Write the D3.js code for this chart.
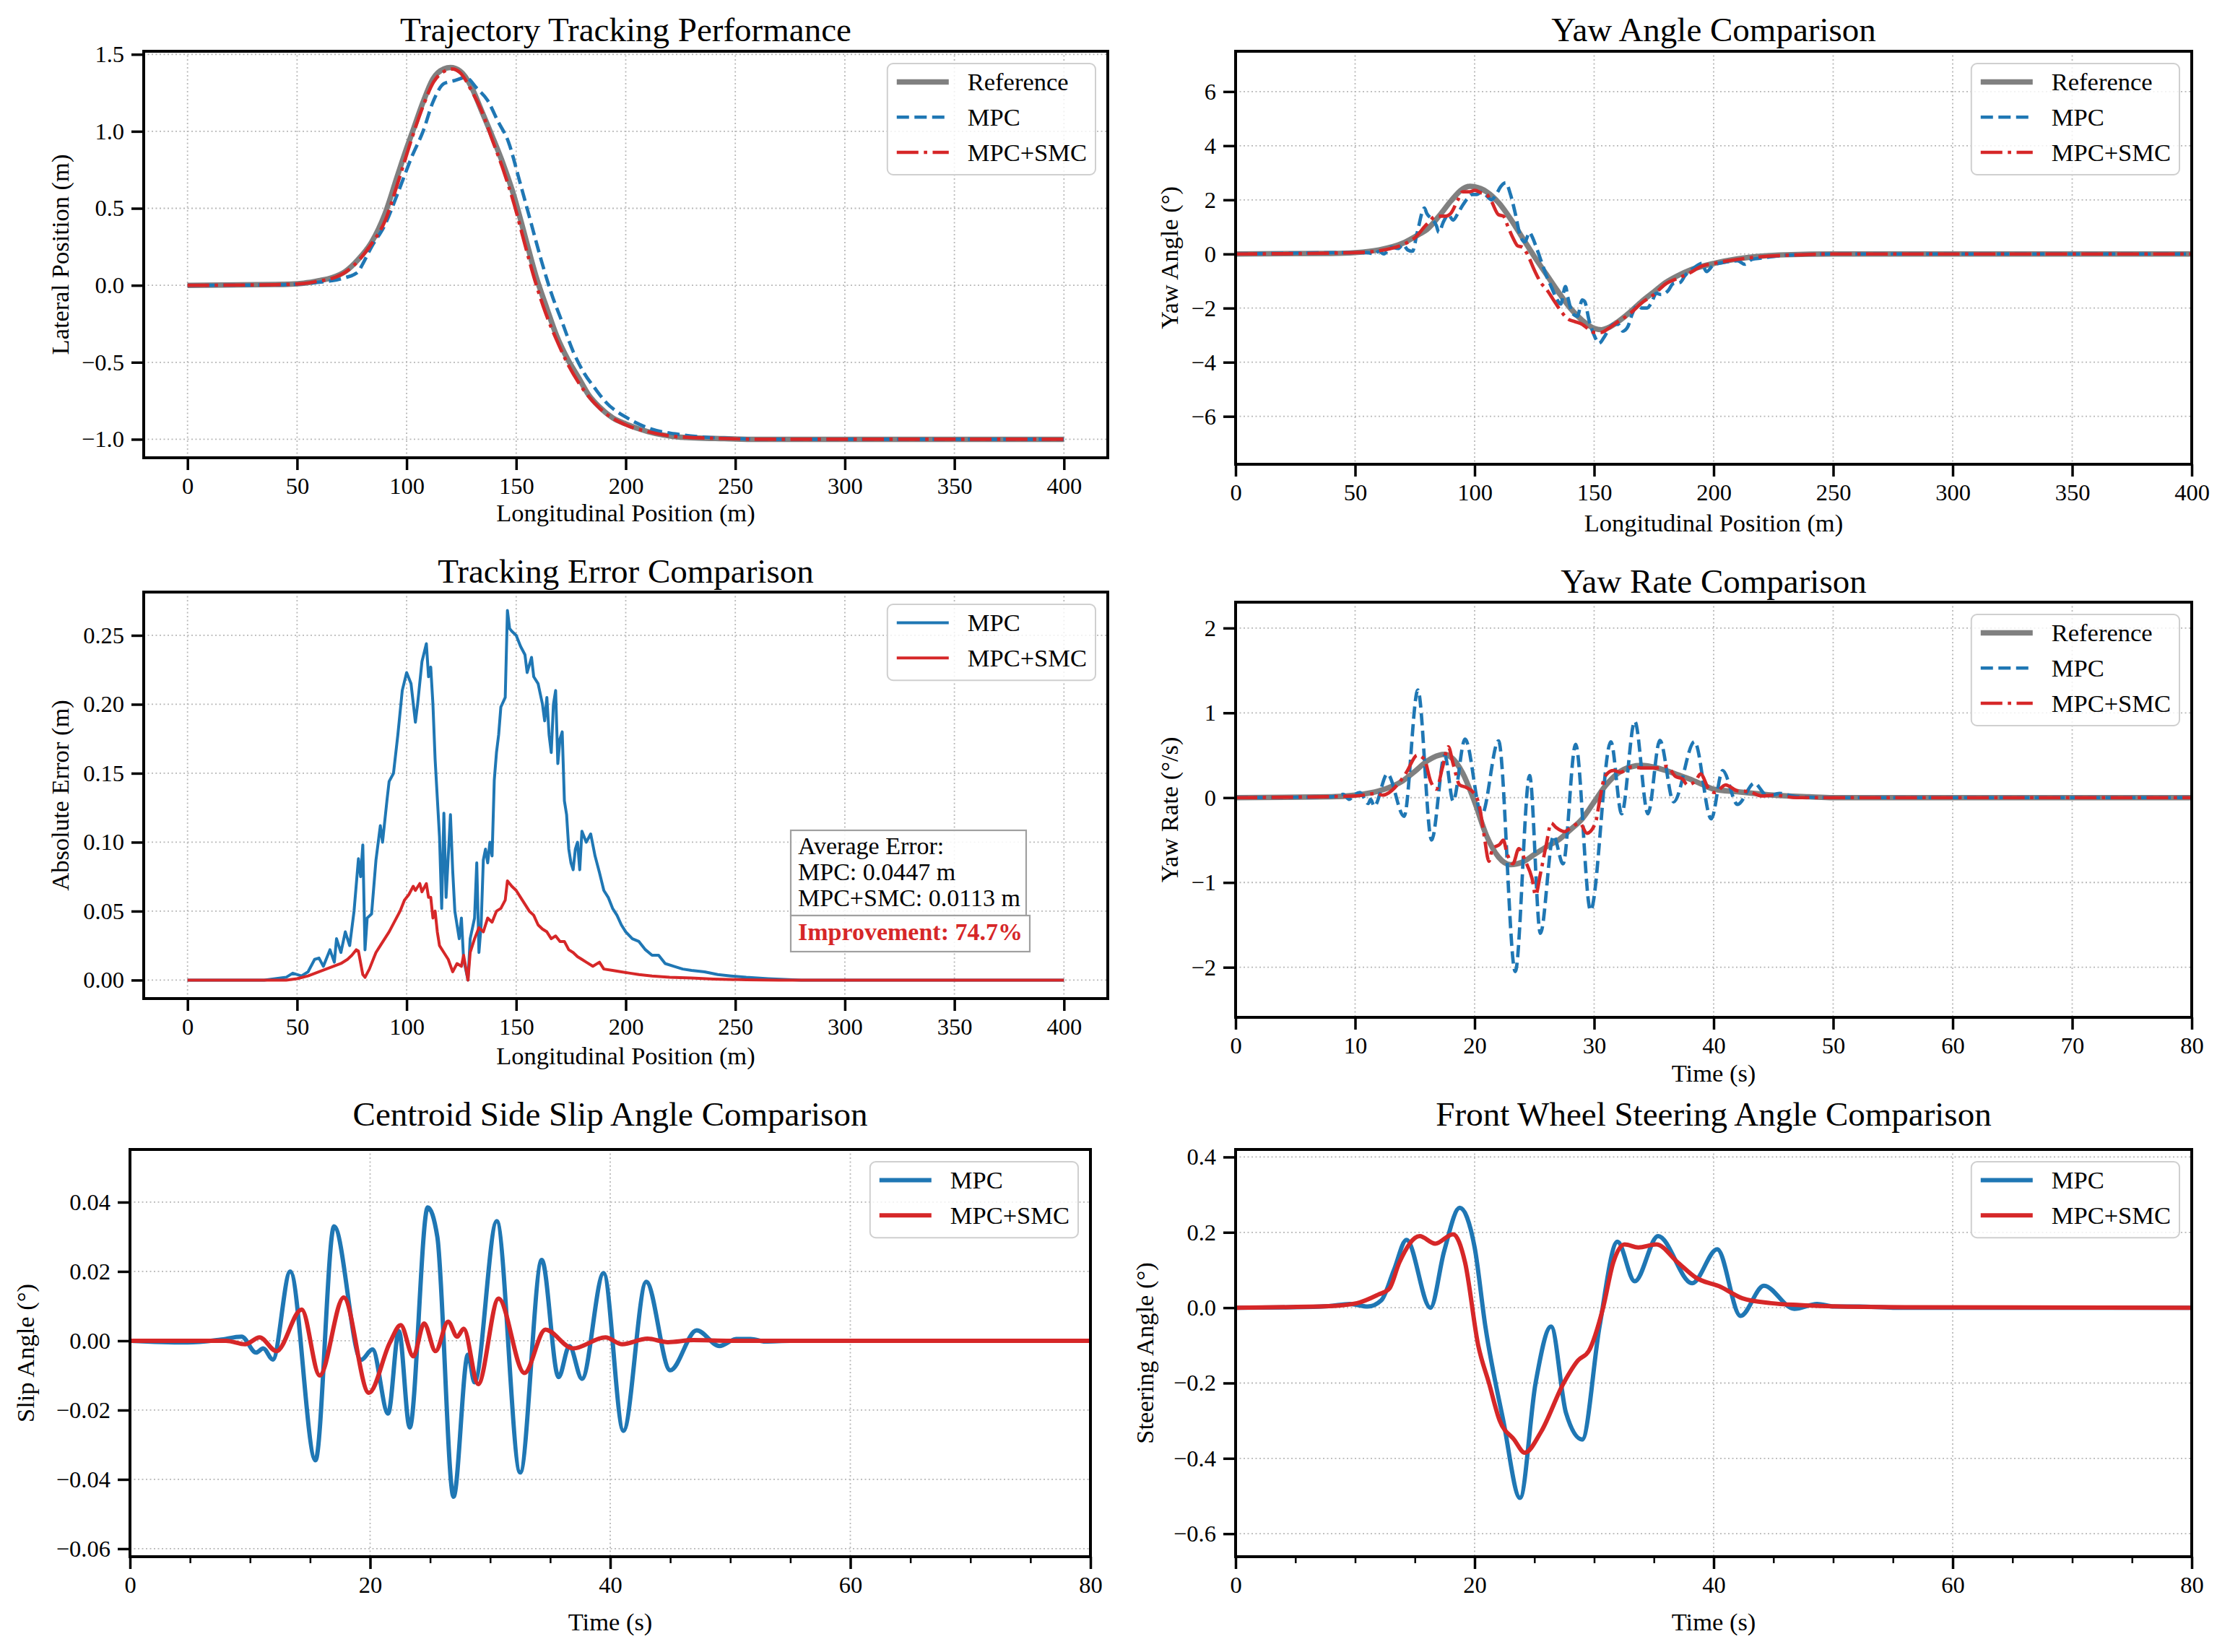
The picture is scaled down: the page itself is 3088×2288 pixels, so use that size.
<!DOCTYPE html>
<html>
<head>
<meta charset="utf-8">
<script src="https://cdn.jsdelivr.net/npm/d3@7"></script>
<style>
  body { margin: 0; background: #fff; }
  svg { display: block; }
</style>
</head>
<body>
<svg id="fig" width="3088" height="2288"></svg>
<script>
// ---- data ----
const posTicks = [0, 50, 100, 150, 200, 250, 300, 350, 400];
const timeTicks10 = [0, 10, 20, 30, 40, 50, 60, 70, 80];
const timeTicks20 = [0, 20, 40, 60, 80];

// lateral position (m) vs longitudinal position (m)
const trajRef = [[0,0],[40,0.005],[53,0.014],[60,0.03],[66,0.05],[72,0.09],[78,0.17],[84,0.28],[90,0.46],[96,0.72],[100,0.89],[103,1.01],[107.5,1.19],[112,1.34],[117,1.405],[120,1.414],[124.5,1.39],[129.5,1.29],[134,1.14],[139,0.97],[144,0.79],[149,0.58],[154,0.32],[159,0.06],[164,-0.15],[168.5,-0.33],[173.5,-0.48],[178.5,-0.6],[183,-0.71],[188,-0.79],[194,-0.86],[200,-0.9],[210,-0.95],[225,-0.986],[245,-0.996],[260,-1.0],[400,-1.0]];
const trajMpc = [[0,0],[40,0.003],[53,0.01],[60,0.02],[66,0.03],[72,0.05],[76,0.07],[78,0.09],[80,0.14],[84,0.25],[90,0.39],[96,0.6],[102.5,0.84],[107.5,1.0],[112,1.19],[117,1.31],[122,1.33],[127,1.35],[132,1.28],[137,1.2],[141.5,1.07],[146.5,0.93],[151.5,0.68],[156.5,0.42],[161.5,0.16],[166,-0.05],[171,-0.24],[176,-0.43],[181,-0.57],[186,-0.67],[191,-0.76],[200.5,-0.86],[210,-0.925],[225,-0.97],[245,-0.993],[265,-1.0],[400,-1.0]];
const trajSmc = [[0,0],[40,0.004],[53,0.012],[60,0.028],[66,0.045],[72,0.085],[78,0.16],[84,0.27],[90.2,0.42],[96.3,0.68],[102.5,0.96],[107.4,1.16],[112.3,1.32],[117.2,1.39],[121,1.405],[124.5,1.38],[129.4,1.27],[134.3,1.13],[139.2,0.94],[144.1,0.75],[149,0.53],[153.9,0.27],[158.8,0.02],[163.7,-0.19],[168.6,-0.36],[173.5,-0.51],[178.4,-0.63],[188.2,-0.8],[200.5,-0.91],[210,-0.95],[225,-0.985],[245,-0.995],[260,-1.0],[400,-1.0]];

// yaw angle (deg) vs longitudinal position (m)
const yawRef = [[0,0],[40,0.02],[50,0.05],[60,0.15],[70,0.4],[77,0.74],[80,0.9],[86,1.5],[90,1.95],[95,2.4],[98,2.5],[100,2.48],[105,2.3],[110,1.9],[115,1.3],[120,0.6],[125,-0.1],[130,-0.75],[135,-1.4],[140,-2.0],[145,-2.45],[150,-2.75],[153,-2.8],[156,-2.72],[160,-2.5],[165,-2.15],[170,-1.75],[175,-1.4],[180,-1.05],[185,-0.8],[190,-0.6],[200,-0.35],[210,-0.18],[220,-0.08],[230,-0.03],[250,0],[400,0]];
const yawMpc = [[0,0],[50,0.05],[55,0.05],[58,0.0],[60,0.1],[62,0.0],[65,0.25],[68,0.2],[70,0.35],[72,0.15],[74,0.1],[76,0.8],[79,1.7],[80,1.5],[82,1.3],[84,1.05],[85,0.8],[87,1.2],[89,1.45],[91,1.25],[93,1.5],[95,1.8],[97,2.05],[99,2.2],[101,2.2],[103,2.3],[105,2.15],[107,2.0],[109,2.2],[111,2.5],[113,2.63],[115,2.2],[117,1.5],[119,0.7],[121,0.45],[123,0.8],[124,0.65],[126,0.2],[128,-0.3],[130,-0.8],[132,-1.2],[134,-1.6],[136,-1.85],[138,-1.2],[139,-1.6],[141,-2.2],[143,-2.3],[145,-1.7],[146,-1.75],[148,-2.5],[150,-3.0],[152,-3.3],[154,-3.1],[156,-2.8],[158,-2.6],[160,-2.6],[162,-2.85],[164,-2.7],[166,-2.2],[168,-1.9],[170,-2.0],[172,-2.0],[174,-1.8],[176,-1.45],[178,-1.5],[181,-1.35],[183,-1.1],[186,-1.05],[188,-0.8],[192,-0.5],[195,-0.35],[197,-0.65],[200,-0.4],[205,-0.3],[210,-0.25],[213,-0.38],[216,-0.2],[220,-0.15],[230,-0.05],[250,0],[400,0]];
const yawSmc = [[0,0],[50,0.05],[60,0.12],[70,0.35],[75,0.6],[80,1.1],[84,1.4],[88,1.4],[90,1.5],[93,2.0],[95,2.3],[98,2.3],[100,2.35],[103,2.25],[105,2.2],[107,1.95],[110,1.45],[112,1.4],[114,1.0],[116,0.6],[118,0.3],[120,0.25],[122,0.0],[125,-0.6],[128,-1.1],[130,-1.3],[133,-1.7],[136,-2.1],[139,-2.4],[142,-2.5],[145,-2.6],[148,-2.8],[150,-2.9],[153,-2.9],[156,-2.75],[160,-2.5],[165,-2.2],[170,-1.8],[175,-1.5],[180,-1.1],[185,-0.9],[190,-0.7],[195,-0.45],[200,-0.35],[210,-0.2],[220,-0.1],[230,-0.05],[250,0],[400,0]];

// absolute tracking error (m) vs longitudinal position (m)
const errMpc = [[0,0],[35,0],[40,0.001],[45,0.002],[48,0.005],[52,0.003],[55,0.006],[58,0.015],[60,0.016],[62,0.01],[65,0.022],[67,0.013],[68,0.03],[70,0.02],[72,0.035],[74,0.025],[76,0.05],[78,0.088],[79,0.075],[80,0.098],[81,0.022],[82,0.045],[84,0.048],[86,0.087],[88,0.112],[89,0.1],[91,0.13],[92,0.144],[94,0.15],[96,0.178],[98,0.21],[100,0.223],[102,0.215],[104,0.187],[105,0.2],[107,0.231],[109,0.244],[110,0.22],[111,0.227],[112,0.2],[113,0.16],[115,0.104],[116,0.052],[117,0.121],[118,0.06],[120,0.12],[121,0.08],[122,0.05],[124,0.03],[125,0.045],[126,0.015],[128,0.0],[129,0.03],[131,0.045],[132,0.085],[133,0.02],[134,0.04],[135,0.087],[136,0.095],[137,0.085],[138,0.1],[139,0.09],[140,0.145],[141,0.165],[142,0.178],[143,0.198],[145,0.205],[146,0.268],[147,0.255],[148,0.253],[150,0.25],[152,0.242],[154,0.236],[155,0.223],[157,0.234],[158,0.22],[160,0.215],[162,0.2],[163,0.188],[164,0.205],[165,0.178],[166,0.165],[167,0.2],[168,0.21],[169,0.157],[170,0.175],[171,0.18],[172,0.13],[173,0.12],[174,0.095],[175,0.085],[176,0.08],[177,0.095],[178,0.1],[179,0.08],[180,0.108],[182,0.1],[184,0.106],[186,0.09],[188,0.078],[190,0.065],[192,0.06],[194,0.052],[196,0.047],[198,0.04],[200,0.035],[203,0.03],[206,0.028],[209,0.022],[212,0.018],[215,0.018],[218,0.012],[222,0.01],[226,0.008],[230,0.007],[236,0.006],[242,0.004],[248,0.003],[255,0.002],[265,0.001],[280,0],[400,0]];
const errSmc = [[0,0],[45,0],[50,0.001],[55,0.003],[60,0.006],[65,0.009],[70,0.012],[73,0.015],[75,0.018],[77,0.022],[78,0.021],[80,0.004],[81,0.002],[83,0.008],[85,0.016],[86,0.02],[88,0.025],[90,0.03],[92,0.035],[93,0.038],[95,0.044],[97,0.05],[99,0.058],[101,0.062],[103,0.068],[104,0.065],[106,0.07],[107,0.064],[109,0.07],[110,0.06],[111,0.06],[112,0.045],[113,0.05],[114,0.035],[115,0.025],[117,0.02],[119,0.015],[121,0.006],[123,0.012],[125,0.01],[126,0.018],[128,0.0],[129,0.02],[131,0.03],[133,0.038],[135,0.035],[137,0.045],[139,0.042],[141,0.05],[143,0.052],[145,0.058],[146,0.072],[148,0.068],[150,0.065],[152,0.06],[154,0.055],[156,0.05],[158,0.047],[160,0.04],[162,0.037],[164,0.035],[166,0.03],[168,0.032],[170,0.028],[172,0.028],[174,0.022],[176,0.02],[178,0.017],[180,0.015],[182,0.013],[185,0.01],[188,0.013],[190,0.008],[194,0.007],[198,0.006],[202,0.005],[206,0.004],[212,0.003],[220,0.002],[230,0.0015],[240,0.0008],[255,0.0002],[270,0],[400,0]];

// yaw rate (deg/s) vs time (s)
const rateRef = [[0,0],[8,0.01],[10,0.03],[12,0.08],[14,0.2],[15,0.31],[16,0.43],[17,0.5],[17.5,0.51],[18,0.48],[19,0.29],[20,-0.05],[21,-0.45],[22,-0.7],[23,-0.79],[24,-0.76],[25,-0.67],[26,-0.58],[27,-0.5],[28,-0.38],[29,-0.25],[30,-0.05],[31,0.15],[32,0.29],[33,0.36],[34,0.38],[35,0.36],[36,0.32],[37,0.27],[38,0.22],[39,0.16],[40,0.1],[42,0.07],[45,0.03],[48,0.01],[50,0],[80,0]];
const rateMpc = [[0,0],[8,0.01],[9,0.04],[9.5,-0.02],[10,0.04],[10.4,0.06],[11.1,-0.07],[11.3,-0.02],[11.6,-0.1],[12.7,0.28],[14.1,-0.22],[15.25,1.27],[16.4,-0.5],[17.5,0.5],[18.2,-0.04],[19.2,0.69],[20.6,-0.2],[22.0,0.67],[23.4,-2.05],[24.6,0.26],[25.5,-1.6],[26.6,-0.45],[27.4,-0.78],[28.45,0.63],[29.7,-1.33],[31.4,0.66],[32.3,-0.19],[33.4,0.9],[34.5,-0.19],[35.5,0.675],[36.65,-0.05],[38.4,0.66],[39.8,-0.25],[40.75,0.32],[42,-0.08],[43.4,0.17],[44.5,0.02],[45.5,0.05],[47,0.01],[50,0],[80,0]];
const rateSmc = [[0,0],[10,0.02],[11.8,0.05],[12.3,0.03],[13.7,0.18],[14.3,0.3],[15.2,0.5],[15.8,0.45],[16.3,0.2],[16.8,0.1],[17.3,0.35],[17.8,0.6],[18.2,0.4],[18.75,0.15],[19.3,0.12],[19.9,0.06],[20.4,-0.1],[20.8,-0.45],[21.2,-0.75],[21.5,-0.6],[22.1,-0.55],[22.4,-0.5],[22.7,-0.65],[23.2,-0.78],[23.7,-0.6],[24.25,-0.75],[24.8,-0.95],[25.1,-1.15],[25.5,-0.9],[26.0,-0.55],[26.4,-0.3],[26.8,-0.35],[27.5,-0.4],[28.1,-0.35],[28.8,-0.3],[29.4,-0.42],[30.1,-0.3],[30.5,0.0],[30.9,0.25],[31.6,0.32],[32.2,0.3],[33.1,0.36],[34.2,0.35],[35.25,0.35],[36.1,0.37],[36.8,0.25],[37.4,0.22],[37.8,0.15],[38.5,0.2],[38.9,0.28],[39.6,0.1],[40.1,0.06],[41,0.15],[42,0.08],[43,0.07],[44,0.02],[45,0.03],[47,0],[80,0]];

// centroid side slip angle (deg) vs time (s)
const slipMpc = [[0,0],[4.8,-0.0005],[7.5,0.0003],[9.3,0.0012],[10.5,-0.0034],[11.1,-0.0022],[11.9,-0.0054],[13.35,0.02],[15.45,-0.0345],[17.0,0.033],[19.25,-0.0055],[20.2,-0.0025],[21.5,-0.021],[22.4,0.0028],[23.3,-0.025],[24.8,0.0385],[25.6,0.03],[26.95,-0.045],[28.15,-0.004],[28.7,-0.012],[30.55,0.0345],[32.5,-0.038],[34.3,0.0233],[35.7,-0.0105],[36.6,-0.0015],[37.65,-0.011],[39.45,0.0195],[41.1,-0.026],[43.0,0.017],[45.0,-0.0085],[47.2,0.003],[49.1,-0.0015],[50.5,0.0005],[51.7,0.0005],[52.9,-0.0002],[55,0],[80,0]];
const slipSmc = [[0,0],[8,0],[9.6,-0.001],[10.8,0.001],[12.2,-0.003],[14.3,0.009],[15.8,-0.01],[17.8,0.0125],[19.9,-0.015],[21.65,-0.0005],[22.55,0.0045],[23.6,-0.0045],[24.5,0.005],[25.45,-0.003],[26.5,0.0055],[27.25,0.0012],[27.8,0.0035],[29.0,-0.0125],[30.7,0.0122],[32.85,-0.0093],[34.6,0.0032],[36.9,-0.0022],[39.6,0.001],[41.0,-0.001],[43.1,0.0006],[44.8,-0.0004],[46.9,0.0002],[50,0],[80,0]];

// front wheel steering angle (deg) vs time (s)
const steerMpc = [[0,0],[4.8,0.001],[7.8,0.004],[9.55,0.01],[11.05,0.003],[12.2,0.02],[13.25,0.1],[14.3,0.18],[16.3,0.0],[17.45,0.15],[18.75,0.265],[20.0,0.16],[20.9,-0.05],[22.4,-0.3],[23.8,-0.505],[25.1,-0.2],[26.4,-0.05],[27.65,-0.28],[29.0,-0.35],[30.45,-0.05],[31.95,0.175],[33.4,0.07],[35.35,0.19],[38.2,0.065],[40.3,0.155],[42.25,-0.022],[44.2,0.058],[46.75,-0.003],[48.65,0.01],[50.1,0.003],[52.2,0.003],[55,0],[80,0]];
const steerSmc = [[0,0],[7.8,0.004],[10.15,0.012],[11.95,0.035],[12.85,0.05],[13.7,0.12],[15.4,0.19],[16.7,0.17],[18.2,0.195],[19.2,0.12],[20.3,-0.1],[21.2,-0.2],[22.1,-0.3],[23.3,-0.35],[24.2,-0.385],[25.55,-0.33],[27.45,-0.2],[28.65,-0.14],[29.55,-0.115],[30.75,0.0],[31.6,0.12],[32.55,0.168],[33.7,0.16],[35.2,0.168],[37.0,0.12],[38.5,0.08],[40.6,0.055],[42.4,0.025],[44.8,0.012],[47.2,0.007],[49.55,0.004],[52.5,0.002],[56,0.001],[80,0]];

// summary text in the error panel
const errSummary = ['Average Error:', 'MPC: 0.0447 m', 'MPC+SMC: 0.0113 m'];
const errImprovement = 'Improvement: 74.7%';

// ---- styles ----
const FONT = '"Liberation Serif","Times New Roman",Times,serif';
const BLUE = '#1f77b4', RED = '#d62728', GRAY = '#808080';
const refStyle = { color: GRAY, width: 7.5, dash: null };
const mpcDash = { color: BLUE, width: 4.7, dash: '17,7.5' };
const smcDashDot = { color: RED, width: 4.7, dash: '30,7.5,4.7,7.5' };

const svg = d3.select('#fig');
svg.append('rect').attr('width', 3088).attr('height', 2288).attr('fill', '#fff');

const panels = [
  {
    id: 'p1', box: [199, 71, 1534, 634], xDomain: [-20, 420], yDomain: [-1.12, 1.52],
    xTicks: posTicks, yTicks: [-1, -0.5, 0, 0.5, 1, 1.5], yFmt: d3.format('.1f'),
    title: 'Trajectory Tracking Performance', titleY: 57,
    xLabel: 'Longitudinal Position (m)', xLabelY: 722,
    yLabel: 'Lateral Position (m)', yLabelX: 95,
    curve: d3.curveMonotoneX,
    series: [
      { name: 'Reference', data: trajRef, ...refStyle },
      { name: 'MPC', data: trajMpc, ...mpcDash },
      { name: 'MPC+SMC', data: trajSmc, ...smcDashDot }
    ]
  },
  {
    id: 'p2', box: [1711, 71, 3035, 643], xDomain: [0, 400], yDomain: [-7.77, 7.49],
    xTicks: posTicks, yTicks: [-6, -4, -2, 0, 2, 4, 6], yFmt: d3.format('d'),
    title: 'Yaw Angle Comparison', titleY: 57,
    xLabel: 'Longitudinal Position (m)', xLabelY: 736,
    yLabel: 'Yaw Angle (°)', yLabelX: 1631,
    curve: d3.curveMonotoneX,
    series: [
      { name: 'Reference', data: yawRef, ...refStyle },
      { name: 'MPC', data: yawMpc, ...mpcDash },
      { name: 'MPC+SMC', data: yawSmc, ...smcDashDot }
    ]
  },
  {
    id: 'p3', box: [199, 820, 1534, 1383], xDomain: [-20, 420], yDomain: [-0.0134, 0.2814],
    xTicks: posTicks, yTicks: [0, 0.05, 0.1, 0.15, 0.2, 0.25], yFmt: d3.format('.2f'),
    title: 'Tracking Error Comparison', titleY: 807,
    xLabel: 'Longitudinal Position (m)', xLabelY: 1474,
    yLabel: 'Absolute Error (m)', yLabelX: 95,
    curve: d3.curveLinear,
    series: [
      { name: 'MPC', data: errMpc, color: BLUE, width: 4, dash: null },
      { name: 'MPC+SMC', data: errSmc, color: RED, width: 4, dash: null }
    ]
  },
  {
    id: 'p4', box: [1711, 834, 3035, 1409], xDomain: [0, 80], yDomain: [-2.59, 2.305],
    xTicks: timeTicks10, yTicks: [-2, -1, 0, 1, 2], yFmt: d3.format('d'),
    title: 'Yaw Rate Comparison', titleY: 821,
    xLabel: 'Time (s)', xLabelY: 1498,
    yLabel: 'Yaw Rate (°/s)', yLabelX: 1631,
    curve: d3.curveMonotoneX,
    series: [
      { name: 'Reference', data: rateRef, ...refStyle },
      { name: 'MPC', data: rateMpc, ...mpcDash },
      { name: 'MPC+SMC', data: rateSmc, ...smcDashDot }
    ]
  },
  {
    id: 'p5', box: [180, 1592, 1510, 2156], xDomain: [0, 80], yDomain: [-0.0623, 0.0552],
    xTicks: timeTicks20, minorX: 5, yTicks: [-0.06, -0.04, -0.02, 0, 0.02, 0.04], yFmt: d3.format('.2f'),
    title: 'Centroid Side Slip Angle Comparison', titleY: 1559,
    xLabel: 'Time (s)', xLabelY: 2258,
    yLabel: 'Slip Angle (°)', yLabelX: 47,
    curve: d3.curveMonotoneX,
    series: [
      { name: 'MPC', data: slipMpc, color: BLUE, width: 6, dash: null },
      { name: 'MPC+SMC', data: slipSmc, color: RED, width: 6, dash: null }
    ]
  },
  {
    id: 'p6', box: [1711, 1592, 3035, 2156], xDomain: [0, 80], yDomain: [-0.661, 0.42],
    xTicks: timeTicks20, minorX: 5, yTicks: [-0.6, -0.4, -0.2, 0, 0.2, 0.4], yFmt: d3.format('.1f'),
    title: 'Front Wheel Steering Angle Comparison', titleY: 1559,
    xLabel: 'Time (s)', xLabelY: 2258,
    yLabel: 'Steering Angle (°)', yLabelX: 1597,
    curve: d3.curveMonotoneX,
    series: [
      { name: 'MPC', data: steerMpc, color: BLUE, width: 6, dash: null },
      { name: 'MPC+SMC', data: steerSmc, color: RED, width: 6, dash: null }
    ]
  }
];

function styleAxis(sel) {
  sel.select('.domain').remove();
  sel.selectAll('.tick line').attr('stroke', '#000').attr('stroke-width', 3.5);
  sel.selectAll('.tick text')
    .attr('font-family', FONT).attr('font-size', 32.5).attr('fill', '#000');
}

function drawPanel(p) {
  const [L, T, R, B] = p.box;
  const x = d3.scaleLinear().domain(p.xDomain).range([L, R]);
  const y = d3.scaleLinear().domain(p.yDomain).range([B, T]);
  const g = svg.append('g').attr('id', p.id);

  g.append('clipPath').attr('id', 'clip-' + p.id)
    .append('rect').attr('x', L).attr('y', T).attr('width', R - L).attr('height', B - T);

  // dotted grid
  const grid = g.append('g').attr('stroke', '#b8b8b8').attr('stroke-width', 1.8)
    .attr('stroke-dasharray', '2,3.5');
  grid.selectAll('.gx').data(p.xTicks).join('line').attr('class', 'gx')
    .attr('x1', d => x(d)).attr('x2', d => x(d)).attr('y1', T).attr('y2', B);
  grid.selectAll('.gy').data(p.yTicks).join('line').attr('class', 'gy')
    .attr('x1', L).attr('x2', R).attr('y1', d => y(d)).attr('y2', d => y(d));

  // series
  const line = d3.line().x(d => x(d[0])).y(d => y(d[1])).curve(p.curve);
  const lines = g.append('g').attr('clip-path', `url(#clip-${p.id})`);
  p.series.forEach(s => {
    lines.append('path').datum(s.data)
      .attr('fill', 'none').attr('stroke', s.color).attr('stroke-width', s.width)
      .attr('stroke-dasharray', s.dash).attr('stroke-linejoin', 'round')
      .attr('d', line);
  });

  // axes
  g.append('g').attr('transform', `translate(0,${B})`)
    .call(d3.axisBottom(x).tickValues(p.xTicks).tickFormat(d3.format('d')).tickSize(17).tickPadding(10))
    .call(styleAxis);
  if (p.minorX) {
    const minor = d3.range(p.xDomain[0], p.xDomain[1] + 0.001, p.minorX).filter(v => !p.xTicks.includes(v));
    g.append('g').attr('transform', `translate(0,${B})`)
      .call(d3.axisBottom(x).tickValues(minor).tickFormat('').tickSize(9))
      .call(styleAxis)
      .selectAll('.tick line').attr('stroke-width', 2.5);
  }
  g.append('g').attr('transform', `translate(${L},0)`)
    .call(d3.axisLeft(y).tickValues(p.yTicks).tickFormat(p.yFmt).tickSize(17).tickPadding(10))
    .call(styleAxis);

  // spines
  g.append('rect').attr('x', L).attr('y', T).attr('width', R - L).attr('height', B - T)
    .attr('fill', 'none').attr('stroke', '#000').attr('stroke-width', 4);

  // texts
  g.append('text').attr('x', (L + R) / 2).attr('y', p.titleY)
    .attr('text-anchor', 'middle').attr('font-family', FONT).attr('font-size', 47)
    .text(p.title);
  g.append('text').attr('x', (L + R) / 2).attr('y', p.xLabelY)
    .attr('text-anchor', 'middle').attr('font-family', FONT).attr('font-size', 34.5)
    .text(p.xLabel);
  g.append('text')
    .attr('transform', `translate(${p.yLabelX},${(T + B) / 2}) rotate(-90)`)
    .attr('text-anchor', 'middle').attr('font-family', FONT).attr('font-size', 34.5)
    .text(p.yLabel);

  drawLegend(g, p);
  return { g, x, y };
}

function drawLegend(g, p) {
  const [L, T, R, B] = p.box;
  const n = p.series.length;
  const lg = g.append('g');
  const box = lg.append('rect');
  const rowY = i => T + 17 + 25.5 + i * 48.75;
  const labels = lg.selectAll('text').data(p.series).join('text')
    .attr('font-family', FONT).attr('font-size', 34.5)
    .attr('y', (d, i) => rowY(i) + 11.5)
    .text(d => d.name);
  let maxW = 0;
  labels.each(function () { maxW = Math.max(maxW, this.getComputedTextLength()); });
  const w = 13 + 72 + 26 + maxW + 12;
  const left = R - 17 - w;
  const h = 25.5 + (n - 1) * 48.75 + 31;
  box.attr('x', left).attr('y', T + 17).attr('width', w).attr('height', h)
    .attr('rx', 8).attr('fill', '#fff').attr('fill-opacity', 0.8)
    .attr('stroke', '#cfcfcf').attr('stroke-width', 2);
  labels.attr('x', left + 13 + 72 + 26);
  lg.selectAll('line').data(p.series).join('line')
    .attr('x1', left + 13).attr('x2', left + 13 + 72)
    .attr('y1', (d, i) => rowY(i)).attr('y2', (d, i) => rowY(i))
    .attr('stroke', d => d.color).attr('stroke-width', d => d.width)
    .attr('stroke-dasharray', d => d.dash);
}

const drawn = panels.map(drawPanel);

// summary boxes in the tracking error panel
(function () {
  const g = drawn[2].g;
  const left = 1095, top = 1150;
  const tg = g.append('g');
  const b1 = tg.append('rect');
  const t1 = tg.selectAll('.sum').data(errSummary).join('text').attr('class', 'sum')
    .attr('x', left + 10).attr('y', (d, i) => top + 33 + i * 36)
    .attr('font-family', FONT).attr('font-size', 34).text(d => d);
  let w1 = 0;
  t1.each(function () { w1 = Math.max(w1, this.getComputedTextLength()); });
  b1.attr('x', left).attr('y', top).attr('width', w1 + 18).attr('height', 118)
    .attr('fill', '#fff').attr('fill-opacity', 0.85).attr('stroke', '#a0a0a0').attr('stroke-width', 2.2);
  const b2 = tg.append('rect');
  const t2 = tg.append('text').attr('x', left + 10).attr('y', top + 152)
    .attr('font-family', FONT).attr('font-size', 34).attr('font-weight', 'bold')
    .attr('fill', RED).text(errImprovement);
  const w2 = t2.node().getComputedTextLength();
  b2.attr('x', left).attr('y', top + 118).attr('width', w2 + 20).attr('height', 50)
    .attr('fill', '#fff').attr('fill-opacity', 0.85).attr('stroke', '#a0a0a0').attr('stroke-width', 2.2);
})();
</script>
</body>
</html>
